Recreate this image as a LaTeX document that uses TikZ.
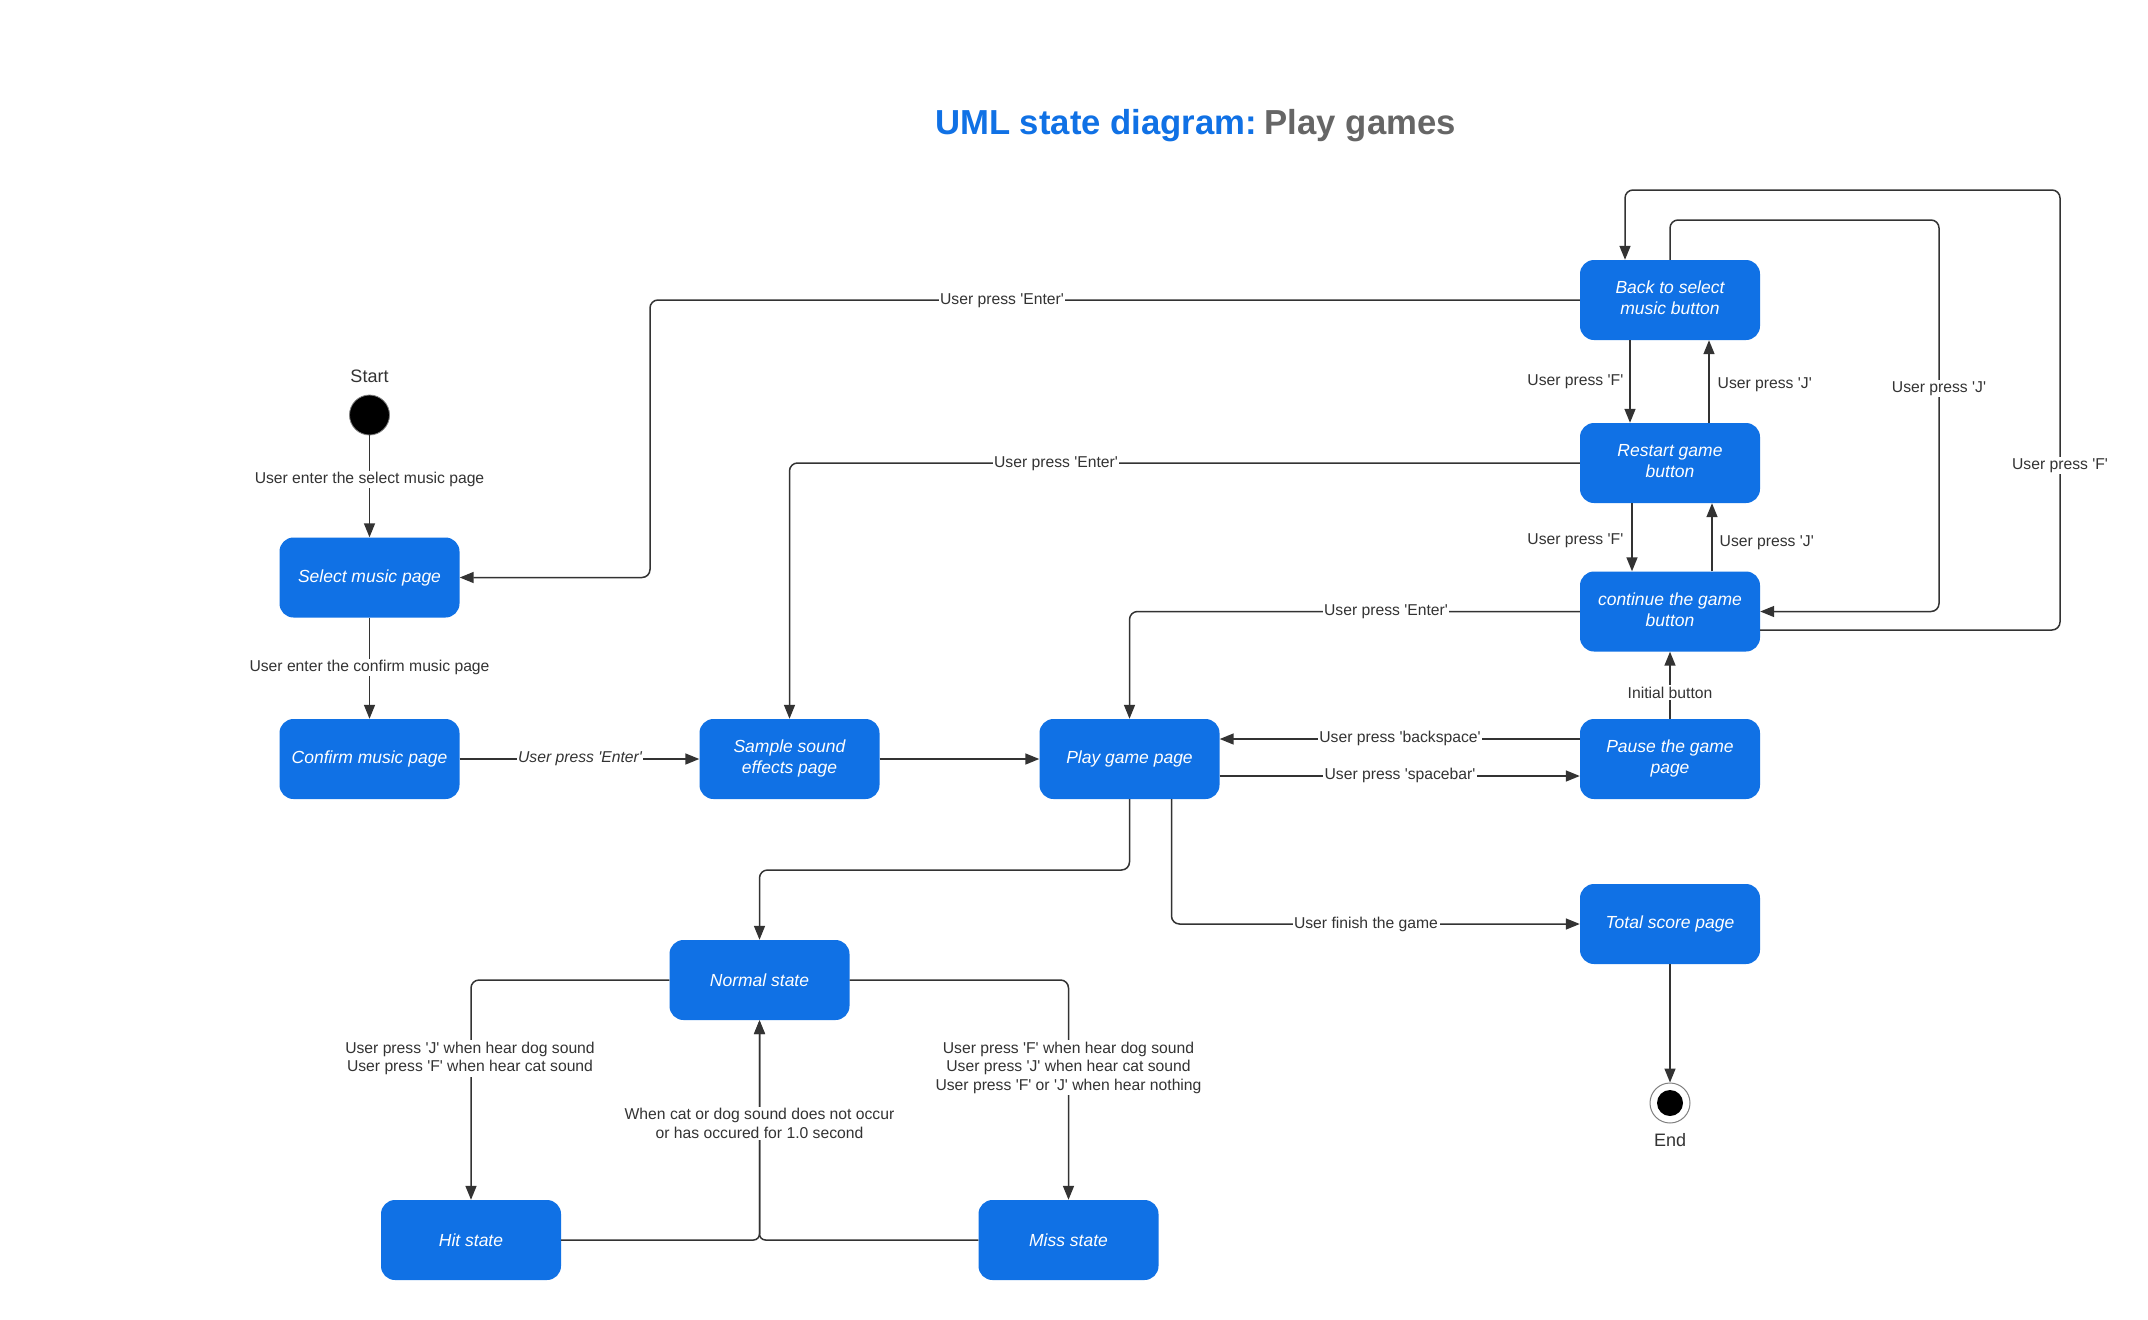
\documentclass[tikz,border=0pt]{standalone}
\usepackage{fontspec}
\setmainfont{Liberation Sans}[Ligatures=TeXOff]
\usetikzlibrary{arrows.meta,calc}
\definecolor{boxblue}{HTML}{1071E5}
\definecolor{titlegray}{HTML}{666666}
\definecolor{linegray}{HTML}{333333}
\definecolor{txtgray}{HTML}{333333}
\tikzset{
  stbox/.style={rectangle, rounded corners=14pt, fill=boxblue, minimum width=180pt, minimum height=80pt,
    text=white, font=\fontsize{17.5}{20.5}\selectfont\itshape, align=center, inner sep=0pt},
  ln/.style={draw=linegray, line width=1.5pt, rounded corners=8pt},
  ar/.style={ln, -{Triangle[length=14pt,width=11pt]}},
  lbl/.style={font=\fontsize{15.7}{18.5}\selectfont, text=txtgray, fill=white, inner sep=1.5pt, align=center, yshift=-1.5pt},
  side/.style={font=\fontsize{15.7}{18.5}\selectfont, text=txtgray, inner sep=1.5pt, yshift=-1.5pt},
}
\newcommand{\twol}[2]{\raisebox{2pt}{\begin{tabular}{@{}c@{}}#1\\[0.5pt]#2\end{tabular}}}
\begin{document}
\begin{tikzpicture}[x=1pt,y=-1pt]
\fill[white] (0,0) rectangle (2148,1320);
\useasboundingbox (0,0) rectangle (2148,1320);

% title
\node[font=\fontsize{34.7}{40}\selectfont\bfseries] (title) at (1195.5,126)
  {\textcolor{boxblue}{UML state diagram:}\hspace{0.22em}\textcolor{titlegray}{Play games}};

% states
\node[stbox] (sel) at (369.5,577.5) {Select music page};
\node[stbox] (conf) at (369.5,759) {Confirm music page};
\node[stbox] (sample) at (789.5,759) {\twol{Sample sound}{effects page}};
\node[stbox] (play) at (1129.5,759) {Play game page};
\node[stbox] (pause) at (1670,759) {\twol{Pause the game}{page}};
\node[stbox] (total) at (1670,924) {Total score page};
\node[stbox] (back) at (1670,300) {\twol{Back to select}{music button}};
\node[stbox] (rst) at (1670,463) {\twol{Restart game}{button}};
\node[stbox] (cont) at (1670,611.5) {\twol{continue the game}{button}};
\node[stbox] (normal) at (759.5,980) {Normal state};
\node[stbox] (hit) at (471,1240) {Hit state};
\node[stbox] (miss) at (1068.5,1240) {Miss state};

% start / end
\node[circle, fill=black, draw=gray, line width=0.8pt, minimum size=40pt, inner sep=0pt] (start) at (369.5,415) {};
\node[font=\fontsize{18}{21}\selectfont, text=txtgray] (starttxt) at (369.5,376) {Start};
\node[circle, draw=gray, line width=1pt, fill=white, minimum size=40pt, inner sep=0pt] (end) at (1670,1103) {};
\node[circle, fill=black, minimum size=26pt, inner sep=0pt] (endin) at (end) {};
\node[font=\fontsize{18}{21}\selectfont, text=txtgray] (endtxt) at (1670,1140) {End};

% connectors
\draw[ar] (start.south) -- (sel.north);
\draw[ar] (sel.south) -- (conf.north);
\draw[ar] (conf.east) -- (sample.west);
\draw[ar] (sample.east) -- (play.west);
\draw[ar] (back.west) -| (650,577.5) -- (sel.east);
\draw[ar] (rst.west) -| (sample.north);
\draw[ar] (cont.west) -| (play.north);
\draw[ar] ([xshift=-40pt]back.south) -- ([xshift=-40pt]rst.north);
\draw[ar] ([xshift=39pt]rst.north) -- ([xshift=39pt]back.south);
\draw[ar] ([xshift=-38pt]rst.south) -- ([xshift=-38pt]cont.north);
\draw[ar] ([xshift=42pt]cont.north) -- ([xshift=42pt]rst.south);
\draw[ar] (back.north) |- (1939,220) -- (1939,611.5) -- (cont.east);
\draw[ar] ($(cont.east)+(0,18.5)$) -- (2060,630) -- (2060,190) -| ($(back.north)+(-45,0)$);
\draw[ar] (pause.north) -- (cont.south);
\draw[ar] ($(pause.west)+(0,-20)$) -- ($(play.east)+(0,-20)$);
\draw[ar] ($(play.east)+(0,17)$) -- ($(pause.west)+(0,17)$);
\draw[ar] ($(play.south)+(42,0)$) |- (total.west);
\draw[ar] (total.south) -- (end.north);
\draw[ar] (play.south) -- (1129.5,870) -| (normal.north);
\draw[ar] (normal.west) -| (hit.north);
\draw[ar] (normal.east) -| (miss.north);
\draw[ar, rounded corners=6pt] (hit.east) -| (normal.south);
\draw[ar, rounded corners=6pt] (miss.west) -| (normal.south);

% labels
\node[lbl] (l1) at (369.5,478) {User enter the select music page};
\node[lbl] (l2) at (369.5,666) {User enter the confirm music page};
\node[lbl, font=\fontsize{15.7}{18.5}\selectfont\itshape] (l3) at (580,757) {User press 'Enter'};
\node[lbl] (l4) at (1002,299) {User press 'Enter'};
\node[lbl] (l5) at (1056,462) {User press 'Enter'};
\node[lbl] (l6) at (1386,610) {User press 'Enter'};
\node[side, anchor=east] (l7) at (1625,380) {User press 'F'};
\node[side, anchor=west] (l8) at (1716,383) {User press 'J'};
\node[side, anchor=east] (l9) at (1625,539) {User press 'F'};
\node[side, anchor=west] (l10) at (1718,541) {User press 'J'};
\node[lbl] (l11) at (1939,387) {User press 'J'};
\node[lbl] (l12) at (2060,464) {User press 'F'};
\node[lbl] (l13) at (1670,691) {Initial button};
\node[lbl] (l14) at (1400,737) {User press 'backspace'};
\node[lbl] (l15) at (1400,774) {User press 'spacebar'};
\node[lbl] (l16) at (1366,923) {User finish the game};
\node[lbl] (l17) at (470,1057) {User press 'J' when hear dog sound\\User press 'F' when hear cat sound};
\node[lbl] (l18) at (1068.5,1066) {User press 'F' when hear dog sound\\User press 'J' when hear cat sound\\User press 'F' or 'J' when hear nothing};
\node[lbl] (l19) at (759.5,1122) {When cat or dog sound does not occur\\or has occured for 1.0 second};
\end{tikzpicture}
\end{document}
